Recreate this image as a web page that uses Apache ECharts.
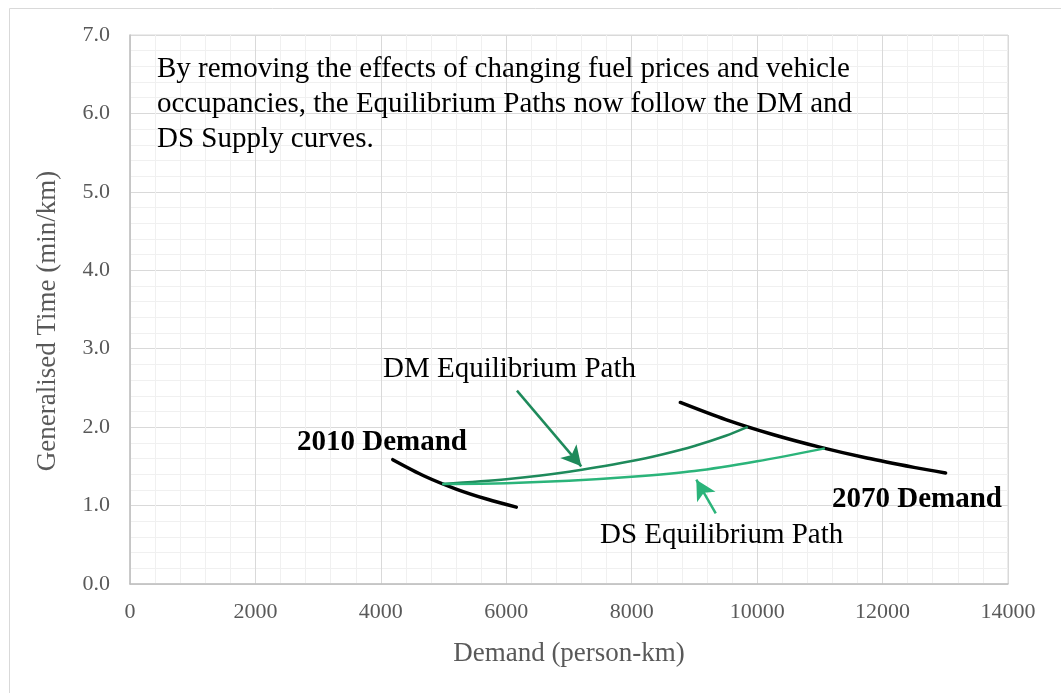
<!DOCTYPE html>
<html lang="en">
<head>
<meta charset="UTF-8">
<title>Equilibrium Paths</title>
<script src="https://cdn.jsdelivr.net/npm/echarts@6.0.0/dist/echarts.min.js"></script>
<style>
  html, body { margin: 0; padding: 0; background: #fff; }
  #chart { width: 1061px; height: 693px; }
</style>
</head>
<body>
<div id="chart"></div>
<script>
  // values
  const demand2010X = [4190, 4700, 5200, 5700, 6160];
  const demand2010Y = [1.585, 1.374, 1.211, 1.08, 0.98];

  const demand2070X = [8775, 9500, 10250, 11000, 11750, 12500, 13005];
  const demand2070Y = [2.315, 2.096, 1.906, 1.745, 1.606, 1.487, 1.415];

  const dmPathX = [4980, 6000, 7000, 8000, 8500, 9000, 9500, 9850];
  const dmPathY = [1.275, 1.335, 1.43, 1.567, 1.655, 1.76, 1.89, 2.003];

  const dsPathX = [4980, 6000, 7000, 8000, 9000, 10000, 11080];
  const dsPathY = [1.275, 1.285, 1.315, 1.366, 1.44, 1.565, 1.729];

  // arrow from label to curve: [tail, head]
  const dmArrow = [[6170, 2.465], [7196, 1.50]];
  const dsArrow = [[9340, 0.90], [9030, 1.33]];

  const xTicks = [0, 14000, 2000];
  const yTicks = [0, 7, 1];

  const DM_GREEN = '#1e8a5b';
  const DS_GREEN = '#2bb47a';
  const FONT = 'Liberation Serif';

  const pairs = (xs, ys) => xs.map((x, i) => [x, ys[i]]);

  const chart = echarts.init(document.getElementById('chart'));

  const note = (text, left, top, bold) => ({
    type: 'text', left: left, top: top, z: 100,
    style: {
      text: text, fill: '#000',
      fontFamily: FONT, fontSize: 29, fontWeight: bold ? 'bold' : 'normal'
    }
  });

  chart.setOption({
    animation: false,
    backgroundColor: '#fff',
    grid: {
      left: 130, top: 35, right: 53, bottom: 109,
      show: true, borderColor: '#d9d9d9', borderWidth: 1
    },
    xAxis: {
      type: 'value',
      min: xTicks[0], max: xTicks[1], interval: xTicks[2],
      name: 'Demand (person-km)',
      nameLocation: 'middle',
      nameGap: 56,
      nameTextStyle: { fontFamily: FONT, fontSize: 27, color: '#595959' },
      axisLine: { show: true, lineStyle: { color: '#bfbfbf', width: 1.5 } },
      axisTick: { show: false },
      axisLabel: {
        fontFamily: FONT, fontSize: 22, color: '#595959', margin: 17,
        formatter: v => String(v)
      },
      splitLine: { show: true, lineStyle: { color: '#d9d9d9', width: 1 } },
      minorTick: { show: false, splitNumber: 5 },
      minorSplitLine: { show: true, lineStyle: { color: '#f0f0f0', width: 1 } }
    },
    yAxis: {
      type: 'value',
      min: yTicks[0], max: yTicks[1], interval: yTicks[2],
      name: 'Generalised Time (min/km)',
      nameLocation: 'middle',
      nameGap: 69,
      nameRotate: 90,
      nameTextStyle: {
        fontFamily: FONT, fontSize: 27, color: '#595959',
        padding: [0, 23, 0, 0]
      },
      axisLine: { show: true, lineStyle: { color: '#bfbfbf', width: 1.5 } },
      axisTick: { show: false },
      axisLabel: {
        fontFamily: FONT, fontSize: 22, color: '#595959', margin: 20,
        formatter: v => v.toFixed(1)
      },
      splitLine: { show: true, lineStyle: { color: '#d9d9d9', width: 1 } },
      minorTick: { show: false, splitNumber: 5 },
      minorSplitLine: { show: true, lineStyle: { color: '#f0f0f0', width: 1 } }
    },
    series: [
      {
        name: '2010 Demand', type: 'line', smooth: 0.3, showSymbol: false,
        data: pairs(demand2010X, demand2010Y),
        lineStyle: { color: '#000', width: 3.5, cap: 'round' }, z: 3
      },
      {
        name: '2070 Demand', type: 'line', smooth: 0.3, showSymbol: false,
        data: pairs(demand2070X, demand2070Y),
        lineStyle: { color: '#000', width: 3.5, cap: 'round' }, z: 3
      },
      {
        name: 'DM Equilibrium Path', type: 'line', smooth: 0.3, showSymbol: false,
        data: pairs(dmPathX, dmPathY),
        lineStyle: { color: DM_GREEN, width: 2.5 }, z: 4,
        markLine: {
          silent: true,
          symbol: ['none', 'arrow'],
          symbolSize: [16, 20],
          label: { show: false },
          lineStyle: { color: DM_GREEN, width: 2.5, type: 'solid' },
          data: [[{ coord: dmArrow[0] }, { coord: dmArrow[1] }]]
        }
      },
      {
        name: 'DS Equilibrium Path', type: 'line', smooth: 0.3, showSymbol: false,
        data: pairs(dsPathX, dsPathY),
        lineStyle: { color: DS_GREEN, width: 2.5 }, z: 4,
        markLine: {
          silent: true,
          symbol: ['none', 'arrow'],
          symbolSize: [16, 20],
          label: { show: false },
          lineStyle: { color: DS_GREEN, width: 2.5, type: 'solid' },
          data: [[{ coord: dsArrow[0] }, { coord: dsArrow[1] }]]
        }
      }
    ],
    graphic: [
      {
        type: 'rect', left: 7, top: 6, silent: true, z: -10,
        shape: { width: 1100, height: 800 },
        style: { fill: 'none', stroke: '#d9d9d9', lineWidth: 1 }
      },
      {
        type: 'text', left: 157, top: 52, z: 100,
        style: {
          text: 'By removing the effects of changing fuel prices and vehicle\noccupancies, the Equilibrium Paths now follow the DM and\nDS Supply curves.',
          fill: '#000', fontFamily: FONT, fontSize: 29, lineHeight: 35
        }
      },
      note('2010 Demand', 297, 428, true),
      note('2070 Demand', 832, 485, true),
      note('DM Equilibrium Path', 383, 355, false),
      note('DS Equilibrium Path', 600, 521, false)
    ]
  });
</script>
</body>
</html>
